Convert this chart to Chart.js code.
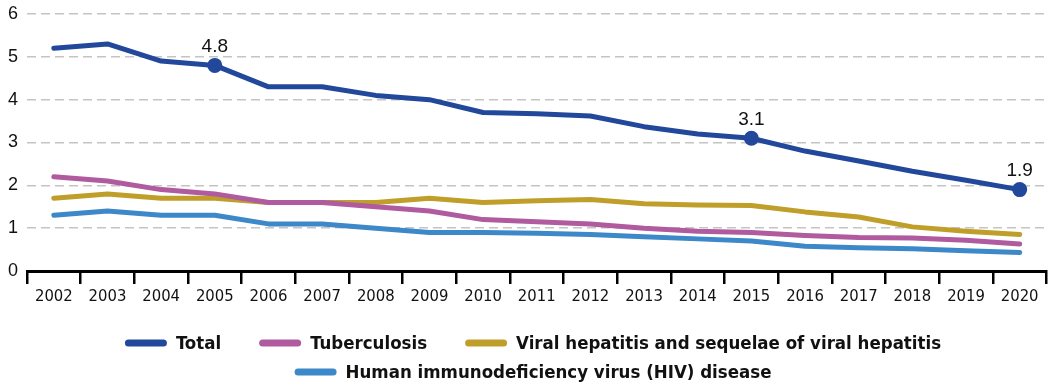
<!DOCTYPE html>
<html>
<head>
<meta charset="utf-8">
<script src="https://cdn.jsdelivr.net/npm/chart.js@4/dist/chart.umd.min.js"></script>
<style>
  html, body { margin: 0; padding: 0; background: #fff; }
  #wrap { width: 1054px; height: 384px; position: relative; }
</style>
</head>
<body>
<div id="wrap"><canvas id="chart"></canvas></div>
<script>
const years = ['2002', '2003', '2004', '2005', '2006', '2007', '2008', '2009', '2010', '2011',
               '2012', '2013', '2014', '2015', '2016', '2017', '2018', '2019', '2020'];
const total        = [5.2, 5.3, 4.9, 4.8, 4.3, 4.3, 4.1, 4.0, 3.7, 3.67, 3.62, 3.37, 3.2, 3.1, 2.8, 2.57, 2.33, 2.12, 1.9];
const tuberculosis = [2.2, 2.1, 1.9, 1.8, 1.6, 1.6, 1.5, 1.4, 1.2, 1.15, 1.1, 1.0, 0.93, 0.9, 0.83, 0.78, 0.77, 0.72, 0.63];
const hepatitis    = [1.7, 1.8, 1.7, 1.7, 1.6, 1.6, 1.6, 1.7, 1.6, 1.64, 1.67, 1.57, 1.54, 1.53, 1.38, 1.26, 1.03, 0.93, 0.85];
const hiv          = [1.3, 1.4, 1.3, 1.3, 1.1, 1.1, 1.0, 0.9, 0.9, 0.88, 0.85, 0.8, 0.75, 0.7, 0.58, 0.54, 0.52, 0.47, 0.43];
const seriesNames = ['Total', 'Tuberculosis', 'Viral hepatitis and sequelae of viral hepatitis',
                     'Human immunodeficiency virus (HIV) disease'];
const labelledYears = ['2005', '2015', '2020']; // points marked on the Total line
const yTicks = [0, 1, 2, 3, 4, 5, 6];

const colors = ['#22489b', '#b05a9f', '#bf9f2a', '#3d88c9'];
const narrow = "'Liberation Sans Narrow', 'DejaVu Sans Condensed', sans-serif";
const regular = "'Liberation Sans', Arial, sans-serif";

function makeSet(i, values) {
    return {
        label: seriesNames[i],
        data: values,
        borderColor: colors[i],
        backgroundColor: colors[i],
        borderWidth: 5,
        borderCapStyle: 'round',
        borderJoinStyle: 'round',
        tension: 0,
        pointRadius: i === 0 ? (c => labelledYears.includes(years[c.dataIndex]) ? 7.5 : 0) : 0,
        pointHoverRadius: i === 0 ? (c => labelledYears.includes(years[c.dataIndex]) ? 7.5 : 0) : 0,
        pointBorderWidth: 0
    };
}

// values above the marked points
const pointLabels = {
    id: 'pointLabels',
    afterDatasetsDraw(chart) {
        const ctx = chart.ctx;
        const meta = chart.getDatasetMeta(0);
        ctx.save();
        ctx.font = '19px ' + regular;
        ctx.fillStyle = '#111';
        ctx.textAlign = 'center';
        ctx.textBaseline = 'bottom';
        years.forEach((y, i) => {
            if (!labelledYears.includes(y)) return;
            const pt = meta.data[i];
            ctx.fillText(total[i].toFixed(1), pt.x, pt.y - 9);
        });
        ctx.restore();
    }
};

// two-row legend like the original (wide gaps, tight rows)
const bottomLegend = {
    id: 'bottomLegend',
    afterDraw(chart) {
        const ctx = chart.ctx;
        const rows = [[0, 1, 2], [3]];
        const rowY = [343, 372];
        const swatch = 42, gapText = 9, gapItem = 38;
        ctx.save();
        ctx.font = 'bold 18.5px ' + narrow;
        ctx.textBaseline = 'middle';
        rows.forEach((row, r) => {
            const widths = row.map(i => swatch + gapText + ctx.measureText(seriesNames[i]).width);
            const full = widths.reduce((a, b) => a + b, 0) + gapItem * (row.length - 1);
            let x = 533 - full / 2;
            row.forEach((i, k) => {
                ctx.strokeStyle = colors[i];
                ctx.lineWidth = 7;
                ctx.lineCap = 'round';
                ctx.beginPath();
                ctx.moveTo(x + 3.5, rowY[r]);
                ctx.lineTo(x + swatch - 3.5, rowY[r]);
                ctx.stroke();
                ctx.fillStyle = '#111';
                ctx.fillText(seriesNames[i], x + swatch + gapText, rowY[r] + 1);
                x += widths[k] + gapItem;
            });
        });
        ctx.restore();
    }
};

new Chart(document.getElementById('chart'), {
    type: 'line',
    data: {
        labels: years,
        datasets: [makeSet(0, total), makeSet(1, tuberculosis), makeSet(2, hepatitis), makeSet(3, hiv)]
    },
    options: {
        responsive: true,
        maintainAspectRatio: false,
        animation: false,
        layout: { padding: { top: 14, right: 3, left: 0, bottom: 0 } },
        plugins: {
            legend: { display: false },
            tooltip: { enabled: false }
        },
        scales: {
            x: {
                offset: true,
                grid: {
                    offset: true,
                    drawOnChartArea: false,
                    drawTicks: true,
                    tickLength: 13,
                    color: '#000',
                    lineWidth: 2.5
                },
                border: { display: true, color: '#000', width: 3 },
                ticks: {
                    font: { family: narrow, size: 16.5 },
                    color: '#111',
                    padding: 3,
                    maxRotation: 0,
                    autoSkip: false
                },
                afterFit(scale) {
                    scale.height = 113;
                    scale.paddingLeft = 0;
                    scale.paddingRight = 0;
                }
            },
            y: {
                min: 0,
                max: 6,
                afterBuildTicks(scale) { scale.ticks = yTicks.map(v => ({ value: v })); },
                grid: {
                    drawTicks: false,
                    color: c => c.tick && c.tick.value === 0 ? 'rgba(0,0,0,0)' : '#c4c4c4',
                    lineWidth: 1.5
                },
                border: { display: false, dash: [9, 5] },
                ticks: {
                    font: { family: regular, size: 18 },
                    color: '#111',
                    padding: 9
                },
                afterFit(scale) {
                    scale.width = 27;
                    scale.paddingTop = 0;
                    scale.paddingBottom = 0;
                }
            }
        }
    },
    plugins: [pointLabels, bottomLegend]
});
</script>
</body>
</html>
